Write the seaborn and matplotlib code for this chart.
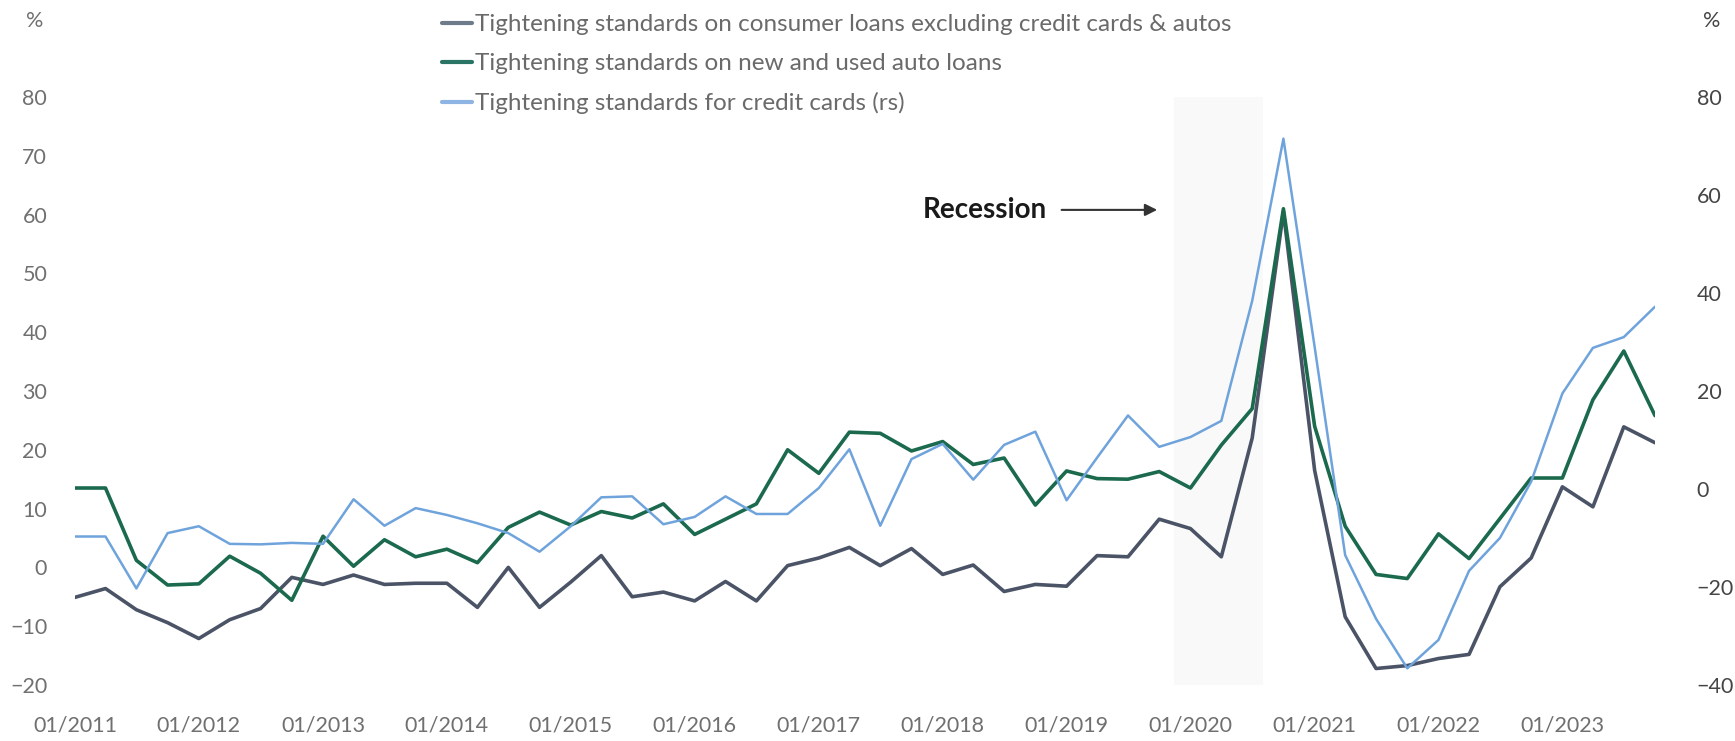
import matplotlib
matplotlib.use("Agg")
import matplotlib.pyplot as plt
import matplotlib.dates as mdates
import numpy as np
import pandas as pd
import seaborn as sns

# Quarterly survey dates, Q1 2011 through Q4 2023
dates = pd.date_range("2011-01-01", "2023-10-01", freq="QS")

# Net % of banks tightening standards (left scale)
consumer_ex_cards_autos = [
    -5.1, -3.6, -7.2, -9.4, -12.1, -8.9, -7.0, -1.7, -2.9, -1.3,
    -2.9, -2.7, -2.7, -6.8, 0.0, -6.8, -2.5, 2.0, -5.0, -4.2,
    -5.7, -2.4, -5.7, 0.3, 1.6, 3.4, 0.3, 3.2, -1.2, 0.4,
    -4.1, -2.9, -3.2, 2.0, 1.8, 8.2, 6.6, 1.8, 22.0, 60.5,
    16.5, -8.4, -17.2, -16.7, -15.5, -14.8, -3.3, 1.6, 13.7, 10.3,
    23.9, 21.2,
]
auto_loans = [
    13.5, 13.5, 1.2, -3.0, -2.8, 1.9, -1.0, -5.6, 5.3, 0.2,
    4.7, 1.8, 3.1, 0.8, 6.8, 9.4, 7.2, 9.5, 8.4, 10.8,
    5.6, 8.2, 10.8, 20.0, 16.0, 23.0, 22.8, 19.8, 21.4, 17.5,
    18.6, 10.6, 16.4, 15.1, 15.0, 16.3, 13.5, 20.8, 27.0, 61.0,
    24.0, 7.0, -1.2, -1.9, 5.7, 1.5, 8.3, 15.2, 15.2, 28.5,
    36.8, 25.8,
]
# Credit cards (right scale)
credit_cards = [
    -9.7, -9.7, -20.3, -9.0, -7.6, -11.2, -11.3, -11.0, -11.2, -2.1,
    -7.5, -3.9, -5.3, -7.0, -9.0, -12.8, -7.6, -1.7, -1.5, -7.2,
    -5.7, -1.5, -5.1, -5.1, 0.2, 8.1, -7.5, 6.1, 9.2, 1.9,
    9.0, 11.7, -2.3, 6.4, 15.0, 8.6, 10.6, 13.9, 38.4, 71.5,
    29.0, -13.5, -26.5, -36.6, -30.8, -16.7, -10.0, 1.5, 19.5, 28.8,
    31.0, 37.2,
]

labels = [
    "Tightening standards on consumer loans excluding credit cards & autos",
    "Tightening standards on new and used auto loans",
    "Tightening standards for credit cards (rs)",
]
colors = ["#4b5466", "#1b6a4e", "#6fa3dc"]
legend_colors = ["#6d7b8a", "#2a7466", "#8db4e2"]

left_ticks = list(range(-20, 81, 10))
right_ticks = list(range(-40, 81, 20))
year_ticks = pd.date_range("2011-01-01", "2023-01-01", freq="YS")

recession_start = pd.Timestamp("2019-11-15")
recession_end = pd.Timestamp("2020-08-01")
arrow_tip = pd.Timestamp("2019-09-25")
arrow_tail = pd.Timestamp("2018-11-05")
arrow_level = 60.8

sns.set_theme(style="white")
plt.rcParams["font.family"] = ["Lato", "DejaVu Sans"]

left_df = pd.DataFrame({
    "date": np.tile(dates, 2),
    "value": consumer_ex_cards_autos + auto_loans,
    "series": [labels[0]] * len(dates) + [labels[1]] * len(dates),
})
right_df = pd.DataFrame({"date": dates, "value": credit_cards, "series": labels[2]})

fig = plt.figure(figsize=(17.35, 7.41), dpi=100)
ax = fig.add_axes([0.0432, 0.0756, 0.9107, 0.7935])
ax2 = ax.twinx()

ax.axvspan(recession_start, recession_end, color="#f9f9f9", lw=0, zorder=0)

sns.lineplot(data=left_df, x="date", y="value", hue="series",
             palette={labels[0]: colors[0], labels[1]: colors[1]},
             linewidth=2.6, ax=ax, legend=False)
sns.lineplot(data=right_df, x="date", y="value", color=colors[2],
             linewidth=1.8, ax=ax2, legend=False)

ax.set_xlim(dates[0], dates[-1])
ax.set_ylim(-20, 80)
ax2.set_ylim(-40, 80)
ax.set_yticks(left_ticks)
ax2.set_yticks(right_ticks)
ax.set_xticks(year_ticks)
ax.xaxis.set_major_formatter(mdates.DateFormatter("%m/%Y"))

for a in (ax, ax2):
    a.set_xlabel("")
    a.set_ylabel("")
    for s in a.spines.values():
        s.set_visible(False)
    a.grid(False)

ax.tick_params(axis="y", length=0, pad=20, labelsize=15.5, labelcolor="#707070")
ax.tick_params(axis="x", length=0, pad=22, labelsize=15.5, labelcolor="#707070")
ax2.tick_params(axis="y", length=0, pad=30, labelsize=15.5, labelcolor="#454545")

fig.text(0.020, 0.972, "%", fontsize=15.5, color="#707070", va="center", ha="center")
fig.text(0.9865, 0.972, "%", fontsize=15.5, color="#454545", va="center", ha="center")

ax.annotate("Recession", xy=(arrow_tip, arrow_level), xytext=(arrow_tail, arrow_level),
            ha="right", va="center", fontsize=20, fontweight="bold", color="#1a1a1a",
            arrowprops=dict(arrowstyle="-|>", color="#333333", lw=1.5,
                            mutation_scale=18, shrinkA=8, shrinkB=0))

handles = [plt.Line2D([], [], color=c, lw=3) for c in legend_colors]
leg = fig.legend(handles, labels, loc="upper left", bbox_to_anchor=(0.249, 0.994),
                 frameon=False, fontsize=17.5, handlelength=1.25, handletextpad=0.1,
                 labelspacing=0.74, borderaxespad=0.0, labelcolor="#6a6a6a")

fig.savefig("out.png", dpi=100, facecolor="white")
